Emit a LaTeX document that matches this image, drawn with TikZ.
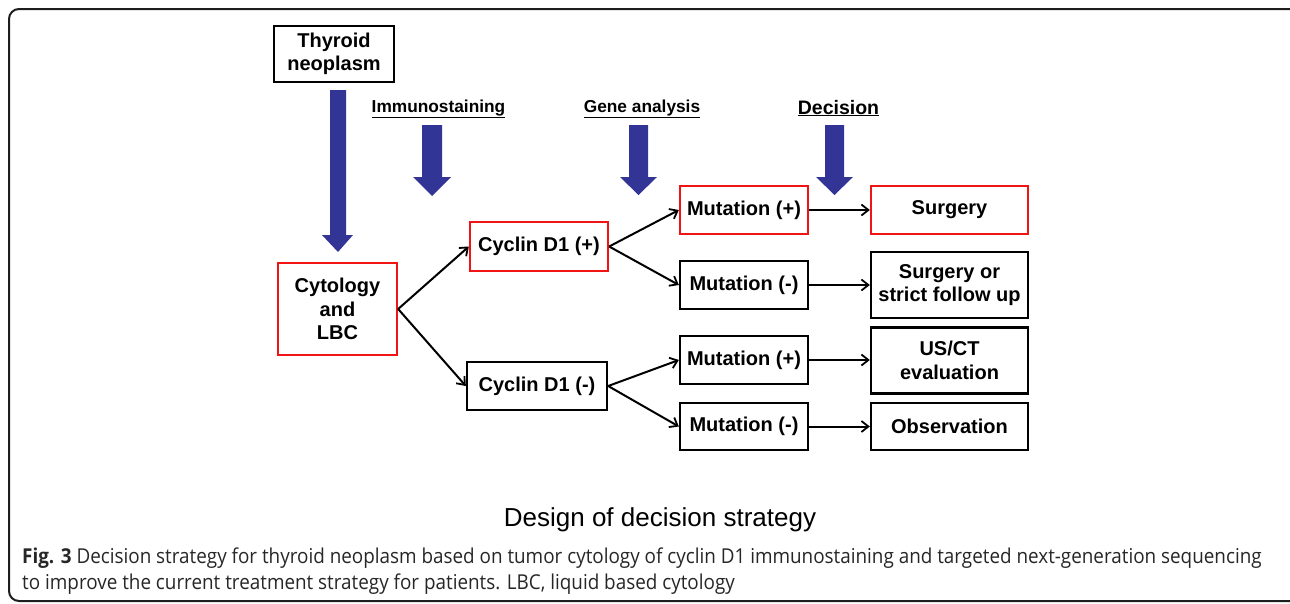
\documentclass[tikz,border=0pt]{standalone}
\usepackage{fontspec}
\setmainfont{Liberation Sans}
\newfontfamily\capfont{Open Sans}[FakeStretch=0.92]
\usetikzlibrary{arrows.meta}
\definecolor{boxred}{RGB}{240,20,20}
\definecolor{arrowblue}{RGB}{50,52,150}
\definecolor{framegray}{RGB}{30,30,30}
\tikzset{
  box/.style={draw=black, line width=2.3pt, align=center, inner sep=2pt,
    font=\fontsize{20}{23.5}\selectfont\bfseries},
  redbox/.style={box, draw=boxred},
  conn/.style={line width=2pt, -{Straight Barb[length=7pt,width=11pt,line width=1.8pt]}},
  header/.style={font=\fontsize{17.3}{19}\selectfont\bfseries, anchor=base},
  bluearrow/.style={fill=arrowblue, draw=none},
}
\begin{document}
\begin{tikzpicture}[x=1pt,y=-1pt]
\useasboundingbox (0,0) rectangle (1290,603);
% outer frame
\draw[framegray, line width=2pt, rounded corners=10pt] (9,9) rectangle (1320,601);

% boxes
\node[box, minimum width=120pt, minimum height=56pt] (thy) at (334,54) {Thyroid\\neoplasm};
\node[redbox, minimum width=119pt, minimum height=92pt] (cyt) at (337.5,309) {Cytology\\and\\LBC};
\node[redbox, minimum width=138pt, minimum height=49pt] (cp) at (539,246.5) {Cyclin D1 (+)};
\node[box, minimum width=140pt, minimum height=48pt] (cm) at (537,386) {Cyclin D1 (-)};
\node[redbox, minimum width=128pt, minimum height=48pt] (m1) at (744,210) {Mutation (+)};
\node[box, minimum width=128pt, minimum height=48pt] (m2) at (744,285) {Mutation (-)};
\node[box, minimum width=128pt, minimum height=48pt] (m3) at (744,360) {Mutation (+)};
\node[box, minimum width=128pt, minimum height=47pt] (m4) at (744,426.5) {Mutation (-)};
\node[redbox, minimum width=157pt, minimum height=48pt] (o1) at (949.5,210) {Surgery};
\node[box, minimum width=157pt, minimum height=66pt] (o2) at (949.5,285) {Surgery or\\strict follow up};
\node[box, minimum width=157pt, minimum height=66pt] (o3) at (949.5,360.5) {US/CT\\evaluation};
\node[box, minimum width=157pt, minimum height=47pt] (o4) at (949.5,426.5) {Observation};

% connectors
\draw[conn] (cyt.east) -- (cp.west);
\draw[conn] (cyt.east) -- (cm.west);
\draw[conn] (cp.east) -- (m1.west);
\draw[conn] (cp.east) -- (m2.west);
\draw[conn] (cm.east) -- (m3.west);
\draw[conn] (cm.east) -- (m4.west);
\draw[conn] (m1.east) -- (m1.east -| o1.west);
\draw[conn] (m2.east) -- (m2.east -| o2.west);
\draw[conn] (m3.east) -- (m3.east -| o3.west);
\draw[conn] (m4.east) -- (m4.east -| o4.west);

% headers
\node[header] (h1) at (438.5,112) {\underline{Immunostaining}};
\node[header] (h2) at (642,112) {\underline{Gene analysis}};
\node[header, font=\fontsize{19.5}{21}\selectfont\bfseries] (h3) at (838.5,114) {\underline{Decision}};

% blue arrows
\fill[bluearrow] (330,90) -- (346,90) -- (346,235) -- (353,235) -- (338,252) -- (322,235) -- (330,235) -- cycle;
\fill[bluearrow] (422,125) -- (442,125) -- (442,177) -- (451,177) -- (432,196) -- (413,177) -- (422,177) -- cycle;
\fill[bluearrow] (629,125) -- (648,125) -- (648,177) -- (657,177) -- (638.5,195) -- (620,177) -- (629,177) -- cycle;
\fill[bluearrow] (825,125) -- (844,125) -- (844,177) -- (853,177) -- (834.5,195) -- (816,177) -- (825,177) -- cycle;

% title
\node[anchor=base, font=\fontsize{26}{30}\selectfont] (title) at (660,526) {Design of decision strategy};

% caption
\node[anchor=base west, inner sep=0pt, font=\capfont\fontsize{20.5}{24}\selectfont, text=black!85] (cap1) at (22,563)
  {\textbf{Fig. 3} Decision strategy for thyroid neoplasm based on tumor cytology of cyclin D1 immunostaining and targeted next-generation sequencing};
\node[anchor=base west, inner sep=0pt, font=\capfont\fontsize{20.5}{24}\selectfont, text=black!85] (cap2) at (22,589)
  {to improve the current treatment strategy for patients. LBC, liquid based cytology};
\end{tikzpicture}
\end{document}
